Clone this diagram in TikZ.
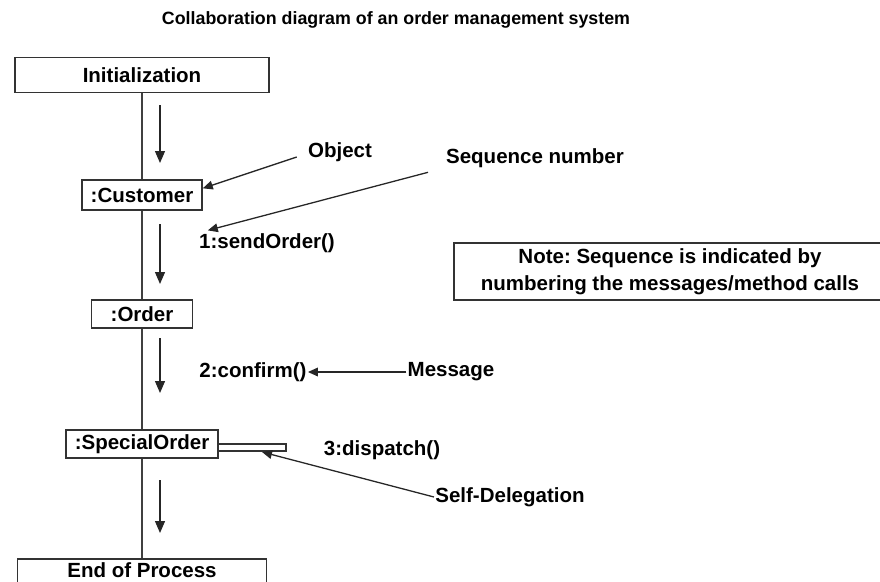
\documentclass[tikz,border=0pt]{standalone}
\usepackage{fontspec}
\setmainfont{Liberation Sans}
\usetikzlibrary{positioning,arrows.meta}
\frenchspacing

\begin{document}
\begin{tikzpicture}[x=0.03cm,y=-0.03cm,
		objbox/.style={draw=black!80,line width=1.3pt,fill=white,inner sep=0pt,font=\bfseries\fontsize{17.5}{21}\selectfont},
		lbl/.style={inner sep=1pt,font=\bfseries\fontsize{17.5}{21}\selectfont},
		lane/.style={black!75,line width=1.2pt},
		flow/.style={black!85,line width=1.1pt,-{Triangle[length=0.36cm,width=0.3cm]}},
		pointer/.style={black!85,line width=1.1pt,-{Triangle[length=0.3cm,width=0.26cm]}}]
	\useasboundingbox (0,0) rectangle (880,581);
	\node[font=\bfseries\fontsize{15.2}{18}\selectfont] (title) at (396,20) {Collaboration diagram of an order management system};

	% objects on the lifeline
	\node[objbox,minimum width=7.62cm,minimum height=1.05cm] (init) at (142,75) {Initialization};
	\node[objbox,minimum width=3.6cm,minimum height=0.9cm] (cust) at (142,195) {:Customer};
	\node[objbox,minimum width=3.03cm,minimum height=0.84cm] (order) at (142,314) {:Order};
	\node[objbox,minimum width=4.56cm,minimum height=0.84cm] (spo) at (142,444) {:SpecialOrder};
	\node[objbox,anchor=north,minimum width=7.47cm,inner ysep=0.12cm,text depth=0.5cm] (end) at (142,558) {End of Process};
	\draw[lane] (init.south) -- (cust.north);
	\draw[lane] (cust.south) -- (order.north);
	\draw[lane] (order.south) -- (spo.north);
	\draw[lane] (spo.south) -- (end.north);

	% direction arrows
	\coordinate (d1a) at (160,105); \coordinate (d1b) at (160,163);
	\coordinate (d2a) at (160,224); \coordinate (d2b) at (160,284);
	\coordinate (d3a) at (160,338); \coordinate (d3b) at (160,393);
	\coordinate (d4a) at (160,480); \coordinate (d4b) at (160,533);
	\draw[flow] (d1a) -- (d1b);
	\draw[flow] (d2a) -- (d2b);
	\draw[flow] (d3a) -- (d3b);
	\draw[flow] (d4a) -- (d4b);

	% messages
	\node[lbl] (send) at (267,243) {1:sendOrder()};
	\node[lbl] (conf) at (253,372) {2:confirm()};
	\node[lbl] (disp) at (382,450) {3:dispatch()};
	\coordinate (selfend) at (286,451);
	\draw[black!80,line width=1pt] (spo.east) rectangle (selfend);

	% annotations
	\node[lbl] (object) at (340,152) {Object};
	\node[lbl] (seqnum) at (535,158) {Sequence number};
	\node[lbl] (msg) at (451,372) {Message};
	\node[lbl] (deleg) at (510,497) {Self-Delegation};
	\coordinate (selftip) at (262,452);
	\draw[pointer] ([xshift=-0.3cm,yshift=-0.15cm]object.west) -- ([yshift=0.2cm]cust.east);
	\draw[pointer] ([xshift=-0.5cm,yshift=-0.1cm]seqnum.south west) -- ([xshift=0.3cm,yshift=0.05cm]send.north west);
	\draw[pointer] (msg.west) -- (conf.east);
	\draw[pointer] (deleg.west) -- (selftip);

	% note
	\node[draw=black!80,line width=1.3pt,minimum width=12.96cm,minimum height=1.71cm,align=center,
		font=\bfseries\fontsize{17.5}{23}\selectfont] (note) at (670,271.5)
		{Note: Sequence is indicated by\\numbering the messages/method calls};
\end{tikzpicture}
\end{document}
